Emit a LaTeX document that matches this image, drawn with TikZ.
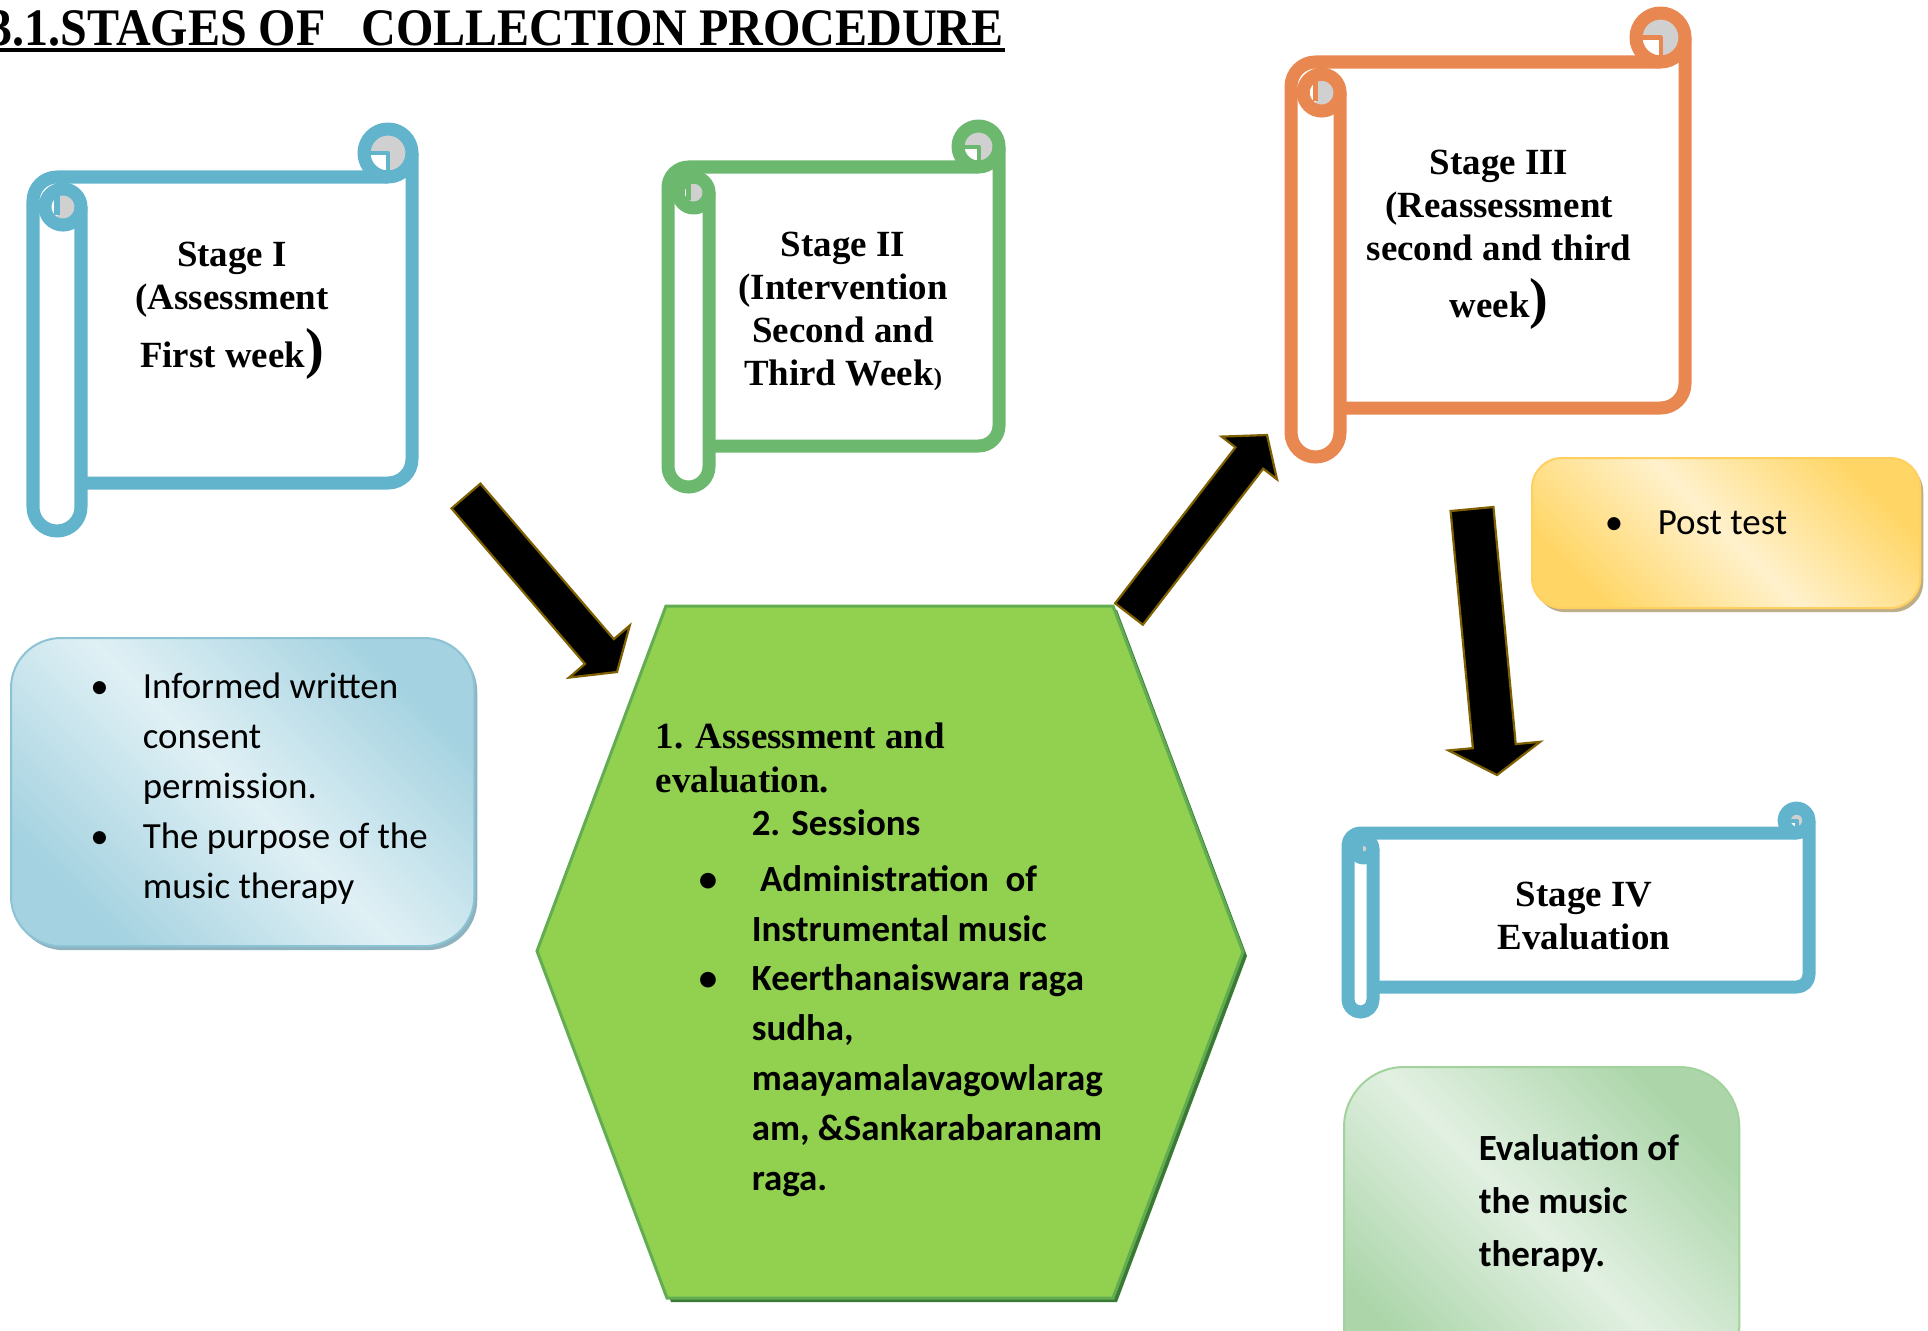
\documentclass[tikz,border=0pt]{standalone}
\usepackage{fontspec}
\setmainfont{Liberation Serif}
\newfontfamily\calibrifont{Carlito}
\usepackage{graphicx}
\usetikzlibrary{calc}
\usetikzlibrary{shadows}

\definecolor{scrollblue}{HTML}{62B4CD}
\definecolor{scrollgreen}{HTML}{6CB86F}
\definecolor{scrollorange}{HTML}{E8874F}
\definecolor{curlgrey}{HTML}{D0D0D0}
\definecolor{hexgreen}{HTML}{92D050}
\definecolor{hexedge}{HTML}{62AD52}
\definecolor{hexshadow}{HTML}{3B7A33}
\definecolor{arrowedge}{HTML}{7F6000}
\definecolor{bluedark}{HTML}{A4D2E0}
\definecolor{bluelight}{HTML}{E0F0F5}
\definecolor{blueedge}{HTML}{8CC3D4}
\definecolor{blueshade}{HTML}{8FB2BF}
\definecolor{yellowdark}{HTML}{FFD666}
\definecolor{yellowlight}{HTML}{FFF1CC}
\definecolor{yellowedge}{HTML}{FFD060}
\definecolor{yellowshade}{HTML}{BDAE88}
\definecolor{greendark}{HTML}{ACD6AA}
\definecolor{greenlight}{HTML}{E2F0E2}
\definecolor{greenedge}{HTML}{A3D39C}

% scroll outline: left, top, right, bottom, roll radius (all px), colour
\newcommand{\scrollshape}[6]{%
  \pgfmathsetmacro\scrollrad{#5*0.01}%
  \pgfmathsetmacro\knobrad{#5*0.0075}%
  \fill[curlgrey] ({#3-#5},{#2+#5}) circle[radius=\scrollrad cm];
  \fill[white] ({#3-#5},{#2+#5}) rectangle ({#3-2*#5},{#2+2*#5});
  \begin{scope}
    \clip ({#1+#5},{#2+2*#5}) rectangle ({#1+2*#5},{#2+4.5*#5});
    \fill[curlgrey] ({#1+1.25*#5},{#2+3.25*#5}) circle[radius=\knobrad cm];
  \end{scope}
  \begin{scope}[line width=0.13cm, line join=round]
    \draw[#6, rounded corners=\scrollrad cm] ({#1+2*#5},{#2+3.25*#5}) -- ({#1+2*#5},{#4})
      -- ({#1},{#4}) -- ({#1},{#2+2*#5}) -- ({#3-#5},{#2+2*#5});
    \draw[#6, rounded corners=\scrollrad cm] ({#3},{#2+#5}) -- ({#3},{#4-2*#5}) -- ({#1+2*#5},{#4-2*#5});
    \draw[#6] ({#3-#5},{#2+#5}) circle[radius=\scrollrad cm];
    \draw[#6] ({#1+1.25*#5},{#2+3.25*#5}) circle[radius=\knobrad cm];
    \draw[#6, line width=0.04cm] ({#3-#5},{#2+2*#5}) -- ({#3-#5},{#2+#5}) -- ({#3-1.75*#5},{#2+#5});
    \draw[#6, line width=0.05cm] ({#1+#5},{#2+2.5*#5}) -- ({#1+#5},{#2+3.6*#5});
  \end{scope}}

% block arrow: tail, tip, half shaft, half head, head length
\newcommand{\blockarrow}[5]{%
  \path ($(#2)!#5!(#1)$) coordinate (arrow base);
  \draw[blockarrow] ($(#1)!#3!90:(#2)$) -- ($(arrow base)!#3!90:(#2)$)
    -- ($(arrow base)!#4!90:(#2)$) -- (#2) -- ($(arrow base)!#4!-90:(#2)$)
    -- ($(arrow base)!#3!-90:(#2)$) -- ($(#1)!#3!-90:(#2)$) -- cycle;}

\tikzset{
  stagetext/.style={align=center, inner sep=0pt, font=\fontsize{10.5}{12.2}\selectfont\bfseries},
  listtext/.style={align=left, inner sep=0pt, font=\fontsize{10.5}{14.2}\selectfont\calibrifont},
  blockarrow/.style={fill=black, draw=arrowedge, line width=0.022cm, line join=miter},
  infobox/.style={anchor=north west, inner sep=0pt, line width=0.02cm},
  bluebox/.style={infobox, rounded corners=0.5cm, draw=blueedge,
    top color=bluedark, bottom color=bluedark, middle color=bluelight, shading angle=-45,
    drop shadow={shadow xshift=0.03cm, shadow yshift=-0.04cm, fill=blueshade, opacity=1}},
  yellowbox/.style={infobox, rounded corners=0.3cm, draw=yellowedge,
    top color=yellowdark, bottom color=yellowdark, middle color=yellowlight, shading angle=-45,
    drop shadow={shadow xshift=0.03cm, shadow yshift=-0.04cm, fill=yellowshade, opacity=1}},
  greenbox/.style={infobox, rounded corners=0.6cm, draw=greenedge,
    top color=greendark, bottom color=greendark, middle color=greenlight, shading angle=-45}
}

\begin{document}
\begin{tikzpicture}[x=0.01cm, y=-0.01cm]
  \useasboundingbox (0,0) rectangle (1928,1330);
  \clip (0,0) rectangle (1928,1330);
  \fill[white] (0,0) rectangle (1928,1330);

  % title
  \node[anchor=base west, inner sep=0pt, font=\fontsize{15}{18}\selectfont\bfseries] (title)
    at (-12,45) {\scalebox{0.911}[1]{3.1.STAGES OF\ \ \ COLLECTION PROCEDURE}};
  \draw[line width=0.037cm] ([yshift=-0.05cm]title.base west) -- ([yshift=-0.05cm]title.base east);

  % the four stages
  \scrollshape{33}{129}{412}{531}{24}{scrollblue}
  \scrollshape{668}{126}{999}{487}{20.5}{scrollgreen}
  \scrollshape{1291}{13}{1685}{457}{24.5}{scrollorange}
  \scrollshape{1348}{808}{1809}{1012}{12.5}{scrollblue}

  \node[stagetext, anchor=base] (stage1) at (232,367)
    {Stage I\\ (Assessment\\[0.07cm] First week{\fontsize{16}{16}\selectfont)}};
  \node[stagetext, anchor=base] (stage2) at (843,385)
    {Stage II\\ (Intervention\\ Second and\\ Third Week{\fontsize{7}{7}\selectfont)}};
  \node[stagetext, anchor=base] (stage3) at (1499,317)
    {Stage III\\ (Reassessment\\ second and third\\[0.14cm] week{\fontsize{16}{16}\selectfont)}};
  \node[stagetext, anchor=base] (stage4) at (1584,949)
    {Stage IV\\ Evaluation};

  % sessions hexagon
  \fill[hexshadow, shift={(4,4)}] (666,606) -- (1113,606) -- (1243,952) -- (1113,1298)
    -- (667,1298) -- (537,951) -- cycle;
  \draw[fill=hexgreen, draw=hexedge, line width=0.03cm] (666,606) -- (1113,606) -- (1243,952)
    -- (1113,1298) -- (667,1298) -- (537,951) -- cycle;
  \node[listtext, font=\fontsize{10.5}{14.15}\selectfont\calibrifont\bfseries, anchor=base west]
    (sessions) at (655,1190) {%
    {\rmfamily 1. Assessment and}\\[-0.05cm]
    {\rmfamily evaluation.}\\[-0.07cm]
    \hspace*{0.96cm}2. Sessions\\[0.06cm]
    \hspace*{0.96cm}\llap{\textbullet\hspace{0.345cm}}\ Administration\ \ of\\
    \hspace*{0.96cm}Instrumental music\\
    \hspace*{0.96cm}\llap{\textbullet\hspace{0.345cm}}Keerthanaiswara raga\\
    \hspace*{0.96cm}sudha,\\
    \hspace*{0.96cm}maayamalavagowlarag\\
    \hspace*{0.96cm}am, \&Sankarabaranam\\
    \hspace*{0.96cm}raga.};

  % side boxes
  \node[bluebox, minimum width=4.63cm, minimum height=3.08cm] (consent box) at (10,637) {};
  \node[listtext, anchor=base west] (consent) at ([xshift=1.32cm, yshift=-2.61cm]consent box.north west)
    {\llap{\textbullet\hspace{0.34cm}}Informed written\\ consent\\ permission.\\
     \llap{\textbullet\hspace{0.34cm}}The purpose of the\\ music therapy};
  \node[yellowbox, minimum width=3.88cm, minimum height=1.50cm] (post box) at (1531,457) {};
  \node[listtext, anchor=base west] (post) at ([xshift=1.26cm, yshift=-0.77cm]post box.north west)
    {\llap{\textbullet\hspace{0.345cm}}Post test};
  \node[greenbox, minimum width=3.95cm, minimum height=3.2cm] (eval box) at (1343,1066) {};
  \node[listtext, font=\fontsize{10.5}{15}\selectfont\calibrifont\bfseries, anchor=base west]
    (eval) at ([xshift=1.35cm, yshift=-2.00cm]eval box.north west)
    {Evaluation of\\ the music\\ therapy.};

  % arrows
  \coordinate (arrow1 tail) at (466,496);
  \coordinate (arrow1 tip) at (617,672);
  \coordinate (arrow2 tail) at (1129,614);
  \coordinate (arrow2 tip) at (1267,435);
  \coordinate (arrow3 tail) at (1472,509);
  \coordinate (arrow3 tip) at (1497,775);
  \blockarrow{arrow1 tail}{arrow1 tip}{0.19cm}{0.40cm}{0.27cm}
  \blockarrow{arrow2 tail}{arrow2 tip}{0.175cm}{0.35cm}{0.29cm}
  \blockarrow{arrow3 tail}{arrow3 tip}{0.215cm}{0.46cm}{0.29cm}
\end{tikzpicture}
\end{document}
